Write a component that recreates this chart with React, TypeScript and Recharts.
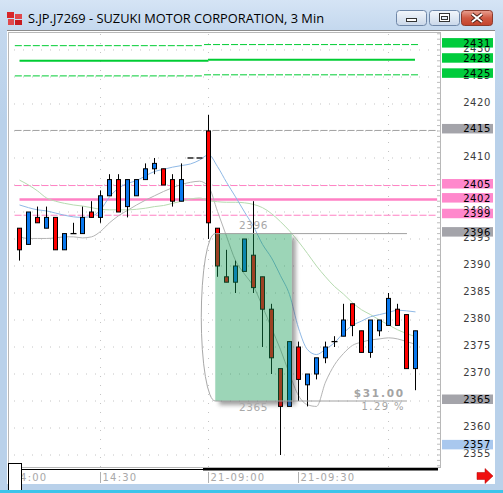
import React from 'react';
import { ComposedChart, Bar, Line, XAxis, YAxis, ReferenceLine, ReferenceArea } from 'recharts';

// 3 min bars, slot -1 = 14:00 on day 1, slot 21 = 21-09:00
const opens = [2397, 2394, 2399, 2397, 2399, 2393, 2396, 2396, 2400, 2399, 2403, 2406, 2401, 2403, 2406, 2408, 2408, 2406, 2402, 2410, 2410, 2415, 2397, 2388, 2387, 2389, 2392, 2388, 2382, 2371, 2364, 2375, 2368, 2370, 2373, 2376, 2377, 2383, 2378, 2374, 2378, 2379, 2382, 2381, 2371];
const highs = [2397, 2400, 2401, 2401, 2399, 2396, 2398, 2401, 2402, 2404, 2407, 2407, 2406, 2406, 2409, 2410, 2408, 2407, 2409, 2410, 2410, 2418, 2397, 2393, 2391, 2395, 2402, 2388, 2383, 2371, 2376, 2376, 2370, 2373, 2376, 2377, 2383, 2383, 2378, 2380, 2380, 2385, 2383, 2381, 2378];
const lows = [2391, 2394, 2398, 2397, 2393, 2393, 2396, 2396, 2399, 2398, 2403, 2400, 2399, 2403, 2406, 2407, 2405, 2401, 2402, 2410, 2410, 2395, 2388, 2387, 2385, 2389, 2385, 2375, 2370, 2355, 2364, 2365, 2364, 2369, 2372, 2375, 2377, 2377, 2374, 2373, 2377, 2379, 2379, 2371, 2367];
const closes = [2393, 2400, 2398, 2399, 2393, 2396, 2396, 2399, 2399, 2403, 2406, 2400, 2406, 2406, 2408, 2409, 2405, 2402, 2406, 2410, 2410, 2398, 2390, 2387, 2390, 2395, 2386, 2382, 2373, 2364, 2376, 2369, 2370, 2373, 2375, 2376, 2380, 2379, 2374, 2380, 2380, 2384, 2379, 2371, 2378];

// moving averages / band
const blueAvg = [2401.3, 2400.8, 2400.4, 2400.2, 2399.8, 2399.4, 2399.1, 2399.0, 2399.2, 2400.4, 2402.8, 2404.4, 2405.3, 2405.8, 2406.7, 2407.5, 2407.9, 2408.3, 2408.6, 2408.9, 2409.6, 2410.6, 2408.4, 2405.5, 2402.8, 2400.0, 2397.3, 2394.0, 2391.5, 2388.2, 2384.7, 2378.5, 2374.5, 2373.6, 2374.6, 2375.8, 2377.6, 2379.0, 2379.8, 2380.6, 2381.0, 2381.4, 2381.8, 2381.7, 2381.5];
const greenAvg = [2405.9, 2405.0, 2403.9, 2402.6, 2402.0, 2401.6, 2401.3, 2401.1, 2400.8, 2400.5, 2400.4, 2400.4, 2400.4, 2400.5, 2400.7, 2401.0, 2401.2, 2401.6, 2402.0, 2402.4, 2402.6, 2402.1, 2401.9, 2401.8, 2401.8, 2401.7, 2401.4, 2400.8, 2399.7, 2398.2, 2396.5, 2394.5, 2392.3, 2390.0, 2388.0, 2386.2, 2384.8, 2383.2, 2381.9, 2381.0, 2380.0, 2379.1, 2378.2, 2377.5, 2376.9];
const grayBand = [2395.4, 2395.1, 2395.1, 2395.1, 2395.2, 2395.4, 2395.4, 2395.2, 2395.4, 2396.4, 2398.0, 2399.3, 2400.3, 2401.3, 2402.2, 2403.0, 2403.8, 2404.5, 2405.1, 2405.5, 2405.7, 2404.7, 2400.1, 2395.5, 2391.0, 2388.5, 2386.2, 2382.5, 2378.5, 2374.5, 2370.0, 2366.0, 2364.3, 2364.0, 2368.5, 2371.7, 2373.8, 2375.3, 2375.9, 2376.3, 2376.5, 2376.7, 2376.5, 2376.0, 2375.5];

const timeSlots = [-1, 9, 21, 31];
const timeLabels = ['14:00', '14:30', '21-09:00', '21-09:30'];
const gridSlots = [9, 21, 41];
const gridPrices = [2355, 2360, 2365, 2370, 2375, 2380, 2385, 2390, 2395, 2400, 2405, 2410, 2415, 2420, 2425, 2430];
const minorPrices = Array.from({ length: 81 }, (_, k) => 2353 + k);

const pivotDay1 = [2430.8, 2428.0, 2425.2];
const pivotDay2 = [2431.0, 2428.2, 2425.4];
const pinkLevels = [2404.9, 2402.3, 2399.4];
const grayLevel = 2415.1;
const measureHigh = 2396;
const measureLow = 2365;
const markerPrice = 2356.6;

const RED = '#ff0000';
const BLUE = '#0a78ee';
const GREEN = '#00cc33';
const PINK = '#ff80c4';
const FONT = 'DejaVu Sans';

const rows = opens.map((o, k) => ({
  slot: k,
  open: o,
  high: highs[k],
  low: lows[k],
  close: closes[k],
  range: [lows[k], highs[k]],
  blueAvg: blueAvg[k],
  greenAvg: greenAvg[k],
  grayBand: grayBand[k],
}));

const Candle = (props: any) => {
  const { x, y, width, height, payload } = props;
  if (!payload || payload.open == null) return null;
  const { open, close, high, low } = payload;
  const c = Math.floor(x + width / 2) + 0.5;
  const top = Math.min(y, y + height);
  const span = Math.abs(height);
  const toY = (p: number) => (high === low ? top : top + ((high - p) / (high - low)) * span);
  const bodyTop = toY(Math.max(open, close));
  const bodyBot = toY(Math.min(open, close));
  return (
    <g>
      {high !== low && <line x1={c} x2={c} y1={top} y2={top + span} stroke="#000" />}
      {open === close ? (
        <line x1={c - 3} x2={c + 3} y1={bodyTop} y2={bodyTop} stroke="#000" strokeWidth={1.3} />
      ) : (
        <rect x={c - 2} y={bodyTop} width={4} height={bodyBot - bodyTop} fill={close > open ? BLUE : RED} stroke="#000" />
      )}
    </g>
  );
};

// inner minor tick on the right edge of the plot
const MinorTick = (props: any) => {
  const { x, y } = props;
  return <line x1={x - 11} x2={x - 8} y1={y} y2={y} stroke="#bdbdbd" />;
};

const TimeTick = (props: any) => {
  const { x, y, payload } = props;
  const label = timeLabels[timeSlots.indexOf(payload.value)];
  return (
    <g>
      <line x1={x} x2={x} y1={y - 3} y2={y + 8} stroke="#b0b0b0" />
      <text x={x + 2} y={y + 6} fontFamily={FONT} fontSize={10} letterSpacing={1.2} fill="#a8a8a8">
        {label}
      </text>
    </g>
  );
};

// plain price label in the right margin, drawn from the grid line
const priceLabel = (value: number) => (p: any) => {
  const vb = p.viewBox;
  return (
    <text x={vb.x + vb.width + 51} y={vb.y + 2} textAnchor="end" fontFamily={FONT} fontSize={10} letterSpacing={0.6} fill="#3c3c3c">
      {value}
    </text>
  );
};

const tagLabel = (value: number, fill: string) => (p: any) => {
  const vb = p.viewBox;
  const left = vb.x + vb.width + 2;
  return (
    <g>
      <rect x={left} y={vb.y - 6.5} width={51} height={9.5} fill={fill} />
      <text x={left + 49} y={vb.y + 2} textAnchor="end" fontFamily={FONT} fontSize={10} letterSpacing={0.6} fill="#000">
        {Math.round(value)}
      </text>
    </g>
  );
};

const MeasureBox = (props: any) => {
  const { x, y, width, height } = props;
  const bottom = y + height;
  return (
    <g>
      <defs>
        <filter id="mblur" x="-30%" y="-30%" width="160%" height="160%">
          <feGaussianBlur stdDeviation="2.2" />
        </filter>
        <mask id="mmask">
          <rect x={x - 30} y={y - 30} width={width + 60} height={height + 60} fill="#fff" />
          <rect x={x} y={y} width={width} height={height} fill="#000" />
        </mask>
      </defs>
      <g mask="url(#mmask)">
        <rect x={x + 4} y={y + 4} width={width} height={height} fill="#444" opacity={0.5} filter="url(#mblur)" />
      </g>
      <rect x={x} y={y} width={width} height={height} fill="#139b53" fillOpacity={0.42} />
      <path d={`M${x},${y} A14,${height / 2} 0 0 0 ${x},${bottom}`} fill="none" stroke="#a8a8a8" />
      <text x={x + width / 2} y={y - 5} textAnchor="middle" fontFamily={FONT} fontSize={10.5} letterSpacing={0.6} fill="#a8a8a8">
        {measureHigh}
      </text>
      <text x={x + width / 2} y={bottom + 10} textAnchor="middle" fontFamily={FONT} fontSize={10.5} letterSpacing={0.6} fill="#a8a8a8">
        {measureLow}
      </text>
    </g>
  );
};

const MeasureText = (p: any) => {
  const vb = p.viewBox;
  const endX = vb.x + vb.width - 2;
  const diff = measureHigh - measureLow;
  const pct = (diff / measureHigh) * 100;
  return (
    <g fontFamily={FONT} fill="#a4a4a4">
      <text x={endX} y={vb.y - 4} textAnchor="end" fontSize={10.5} fontWeight="bold" letterSpacing={1.8}>
        ${diff.toFixed(2)}
      </text>
      <text x={endX} y={vb.y + 9} textAnchor="end" fontSize={10} letterSpacing={1.4}>
        {pct.toFixed(2)} %
      </text>
    </g>
  );
};

const level = (key: string, value: number, x1: number, x2: number, color: string, width: number, dash?: string) => (
  <ReferenceLine
    key={key}
    segment={[{ x: x1, y: value }, { x: x2, y: value }]}
    stroke={color}
    strokeWidth={width}
    strokeDasharray={dash}
  />
);

const priceDomain = [2352.78, 2433.33];

export default function App() {
  return (
    <div
      style={{
        position: 'relative',
        width: 503,
        height: 493,
        overflow: 'hidden',
        background: 'linear-gradient(#d5e4f5 0px, #c4d8ee 30px, #b9d1ea 120px, #b9d1ea 100%)',
      }}
    >
      <style>{'body{margin:0}'}</style>
      <svg width={503} height={31} style={{ position: 'absolute', left: 0, top: 0 }}>
        <defs>
          <linearGradient id="btn" x1="0" y1="0" x2="0" y2="1">
            <stop offset="0" stopColor="#f3f7fc" />
            <stop offset="0.5" stopColor="#dfe8f3" />
            <stop offset="1" stopColor="#c9d7e9" />
          </linearGradient>
          <linearGradient id="cls" x1="0" y1="0" x2="0" y2="1">
            <stop offset="0" stopColor="#e9a293" />
            <stop offset="0.5" stopColor="#d05a44" />
            <stop offset="1" stopColor="#c4432c" />
          </linearGradient>
        </defs>
        <rect x={7} y={12} width={7} height={6} fill="#d8262a" />
        <rect x={15} y={14} width={7} height={5} fill="#e0484c" />
        <rect x={8} y={19} width={6} height={6} fill="#e0484c" />
        <rect x={15} y={20} width={7} height={5} fill="#c81c20" />
        <text x={28} y={22.5} fontFamily="Open Sans" fontSize={12.5} fill="#000" textLength={296} lengthAdjust="spacingAndGlyphs">
          S.JP.J7269 - SUZUKI MOTOR CORPORATION, 3 Min
        </text>
        <rect x={396.5} y={10.5} width={30} height={15} rx={3} fill="url(#btn)" stroke="#6f87a8" />
        <rect x={406.5} y={18.5} width={10} height={3} fill="#fff" stroke="#333" />
        <rect x={429.5} y={10.5} width={30} height={15} rx={3} fill="url(#btn)" stroke="#6f87a8" />
        <rect x={439.5} y={13.5} width={10} height={8} fill="#fff" stroke="#333" />
        <rect x={441.5} y={16.5} width={6} height={3} fill="#e4ebf4" stroke="#333" />
        <rect x={461.5} y={10.5} width={31} height={15} rx={3} fill="url(#cls)" stroke="#8c3a2c" />
        <path d="M472,14 L482,22 M482,14 L472,22" stroke="#4a1a12" strokeWidth={3.6} />
        <path d="M472,14 L482,22 M482,14 L472,22" stroke="#fff" strokeWidth={2} />
      </svg>

      <div style={{ position: 'absolute', left: 7, top: 30, width: 488, height: 453, background: '#fff', borderTop: '1px solid #8c8c8c' }} />
      <div
        style={{
          position: 'absolute',
          left: 8,
          top: 32,
          width: 433,
          height: 436,
          boxSizing: 'border-box',
          border: '1px solid #b8b8b8',
        }}
      />

      <div style={{ position: 'absolute', left: 0, top: 0 }}>
        <ComposedChart width={503} height={493} data={rows} margin={{ top: 32, right: 0, bottom: 0, left: 8 }}>
          <XAxis
            type="number"
            dataKey="slot"
            domain={[-1.28, 46.72]}
            allowDataOverflow
            ticks={timeSlots}
            interval={0}
            tick={<TimeTick />}
            tickLine={false}
            axisLine={false}
            height={26}
          />
          <YAxis
            orientation="right"
            width={63}
            domain={priceDomain}
            allowDataOverflow
            ticks={minorPrices}
            interval={0}
            tick={<MinorTick />}
            tickLine={false}
            axisLine={false}
          />
          <YAxis
            yAxisId="minor"
            orientation="left"
            width={0}
            mirror
            domain={priceDomain}
            allowDataOverflow
            ticks={minorPrices}
            interval={0}
            tick={false}
            tickSize={3}
            tickLine={{ stroke: '#bdbdbd' }}
            axisLine={false}
          />

          {gridPrices.map((p) => (
            <ReferenceLine
              key={'g' + p}
              y={p}
              stroke="#c4c4c4"
              strokeDasharray="1 8"
              strokeDashoffset={-2}
              label={priceLabel(p)}
            />
          ))}
          {gridSlots.map((s) => (
            <ReferenceLine key={'v' + s} x={s} stroke="#c4c4c4" strokeDasharray="1 8" />
          ))}

          {level('p1u', pivotDay1[0], -0.52, 20.4, GREEN, 1, '7 2')}
          {level('p1m', pivotDay1[1], 0, 20.94, GREEN, 2)}
          {level('p1l', pivotDay1[2], -0.52, 20.4, GREEN, 1, '7 2')}
          {level('p2u', pivotDay2[0], 20.5, 44.35, GREEN, 1, '7 2')}
          {level('p2m', pivotDay2[1], 20.94, 43.94, GREEN, 2)}
          {level('p2l', pivotDay2[2], 20.5, 44.35, GREEN, 1, '7 2')}
          {level('gl', grayLevel, -0.55, 46.4, '#a0a0a0', 1, '7 2')}
          {level('pk0', pinkLevels[0], -0.55, 46.4, PINK, 1, '7 2')}
          {level('pk1', pinkLevels[1], 0, 46.4, PINK, 2.5)}
          {level('pk2', pinkLevels[2], -0.55, 46.4, PINK, 1, '7 2')}

          <Line dataKey="grayBand" type="monotone" stroke="#b4b4b4" strokeWidth={1} dot={false} isAnimationActive={false} />
          <Line dataKey="greenAvg" type="monotone" stroke="#b6dbb0" strokeWidth={1} dot={false} isAnimationActive={false} />
          <Line dataKey="blueAvg" type="monotone" stroke="#8fb9e6" strokeWidth={1} dot={false} isAnimationActive={false} />

          <Bar dataKey="range" barSize={5} shape={<Candle />} isAnimationActive={false} zIndex={450} />

          {/* price-range measure drawn over the candles */}
          <ReferenceArea
            x1={21.75}
            x2={30.25}
            y1={measureLow}
            y2={measureHigh}
            shape={<MeasureBox />}
            zIndex={460}
          />
          <ReferenceLine
            segment={[{ x: 21.75, y: measureHigh }, { x: 43.05, y: measureHigh }]}
            stroke="#a0a0a0"
            zIndex={470}
          />
          <ReferenceLine
            segment={[{ x: 21.75, y: measureLow }, { x: 43.05, y: measureLow }]}
            stroke="#a0a0a0"
            zIndex={470}
            label={MeasureText}
          />

          {pivotDay2.map((v) => (
            <ReferenceLine key={'t' + v} y={v} stroke="none" label={tagLabel(v, '#00cc3c')} />
          ))}
          <ReferenceLine y={grayLevel} stroke="none" label={tagLabel(grayLevel, '#a4a4aa')} />
          {pinkLevels.map((v) => (
            <ReferenceLine key={'t' + v} y={v} stroke="none" label={tagLabel(v, '#ff88cc')} />
          ))}
          <ReferenceLine y={measureHigh} stroke="none" label={tagLabel(measureHigh, '#a4a4aa')} />
          <ReferenceLine y={measureLow} stroke="none" label={tagLabel(measureLow, '#a4a4aa')} />
          <ReferenceLine y={markerPrice} stroke="none" label={tagLabel(markerPrice, '#a9c8ee')} />
        </ComposedChart>
      </div>

      <svg width={503} height={493} style={{ position: 'absolute', left: 0, top: 0, pointerEvents: 'none' }}>
        <line x1={21} x2={203} y1={469.5} y2={469.5} stroke="#000" />
        <line x1={203} x2={438} y1={469.3} y2={469.3} stroke="#000" strokeWidth={2.6} />
        <rect x={8.5} y={463.5} width={13} height={27} fill="#fff" stroke="#000" />
        <polygon points="477,472.5 485,472.5 485,468.5 493,476 485,483.5 485,479.5 477,479.5" fill="#f01010" stroke="#b00000" strokeWidth={0.5} />
        <rect x={0} y={490} width={503} height={3} fill="#3cc4ea" />
      </svg>
    </div>
  );
}
